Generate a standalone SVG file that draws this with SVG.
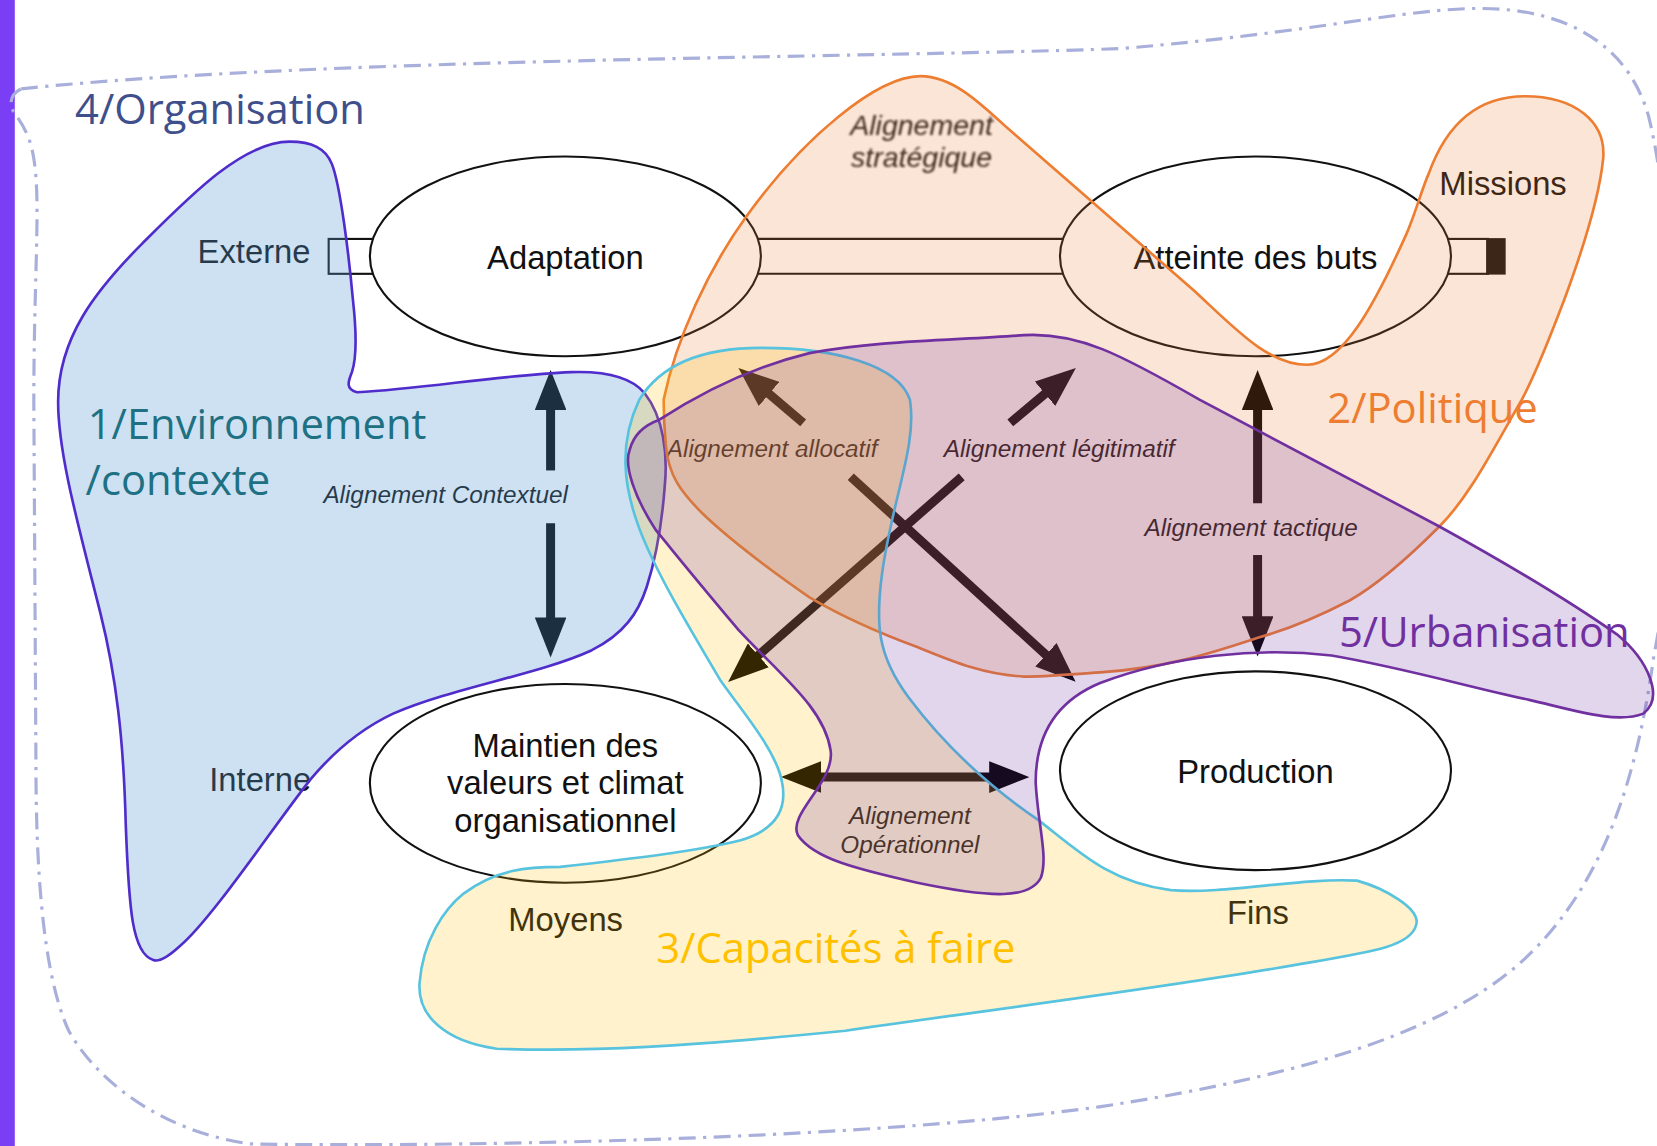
<svg xmlns="http://www.w3.org/2000/svg" width="1657" height="1146" viewBox="0 0 1657 1146">
<style>
.ell{fill:#ffffff;stroke:#111111;stroke-width:2}
.lbl{font-family:"Liberation Sans",Arial,sans-serif;font-size:31px;fill:#111111}
.ita{font-family:"Liberation Sans",Arial,sans-serif;font-style:italic;font-size:23px;fill:#111111}
.ttl{font-family:"Open Sans","Noto Sans",sans-serif;font-size:39.5px}
.arr{stroke:#000000;stroke-width:8.5;fill:none;marker-end:url(#head)}
.band{stroke:#111111;stroke-width:2;fill:none}
</style>
<defs>
<marker id="head" viewBox="0 0 38 30" refX="18" refY="15" markerWidth="38" markerHeight="30" markerUnits="userSpaceOnUse" orient="auto-start-reverse">
<path d="M0,0 L38,15 L0,30 Z" fill="#000000"/>
</marker>
<filter id="soft" x="-10%" y="-30%" width="120%" height="160%"><feGaussianBlur stdDeviation="1"/></filter>
</defs>
<rect x="0" y="0" width="1657" height="1146" fill="#ffffff"/>
<g transform="scale(1.0568,1.0572)">
<rect x="0" y="0" width="14" height="1084" fill="#7a3ff4"/>
<g id="organisation-boundary">
<path d="M 20,84 C 300,55 800,55 1060,46 C 1250,30 1330,8 1400,8 C 1480,8 1540,40 1560,110 C 1590,230 1590,500 1565,620 C 1550,730 1520,830 1450,900 C 1380,970 1250,1015 1040,1047 C 800,1080 400,1085 237,1082 C 150,1070 90,1020 65,975 C 40,920 34,820 34,720 L 32,380 C 32,250 40,180 30,140 C 25,120 15,110 12,104 C 8,96 12,88 20,84 Z" fill="none" stroke="#a9afdb" stroke-width="3" stroke-dasharray="16 7 3 7"/>
</g>
<g id="connectors">
<line class="band" x1="715" y1="226" x2="1008" y2="226"/>
<line class="band" x1="715" y1="259" x2="1008" y2="259"/>
<rect x="311" y="226" width="44" height="33" fill="#ffffff" stroke="#111111" stroke-width="2"/>
<rect x="1368" y="226" width="40" height="33" fill="#ffffff" stroke="#111111" stroke-width="2"/>
<rect x="1407" y="226" width="17" height="33" fill="#111111" stroke="#111111" stroke-width="1.5"/>
<line class="arr" x1="521" y1="445" x2="521" y2="370"/>
<line class="arr" x1="521" y1="495" x2="521" y2="602"/>
<line class="arr" x1="1190" y1="476" x2="1190" y2="370"/>
<line class="arr" x1="1190" y1="525" x2="1190" y2="601"/>
<line class="arr" x1="760" y1="400" x2="714" y2="361"/>
<line class="arr" x1="805" y1="451" x2="1003" y2="631.5"/>
<line class="arr" x1="956" y1="400" x2="1002.7" y2="360.9"/>
<line class="arr" x1="910" y1="451" x2="704" y2="631.8"/>
<line class="arr" x1="759" y1="735" x2="954" y2="735" style="marker-start:url(#head)"/>
<text class="ita" x="306" y="476">Alignement Contextuel</text>
<text class="ita" x="631" y="432">Alignement allocatif</text>
<text class="ita" x="893" y="432">Alignement légitimatif</text>
<text class="ita" x="1083" y="507">Alignement tactique</text>
<text class="ita" x="861" y="779" text-anchor="middle">Alignement</text>
<text class="ita" x="861" y="807" text-anchor="middle">Opérationnel</text>
<g filter="url(#soft)">
<text class="ita" x="872" y="128" text-anchor="middle" style="font-size:27px;fill:#141414">Alignement</text>
<text class="ita" x="872" y="158" text-anchor="middle" style="font-size:27px;fill:#141414">stratégique</text>
</g>
</g>
<g id="node-adaptation">
<ellipse class="ell" cx="535" cy="242.5" rx="185" ry="94.5"/>
<text class="lbl" x="535" y="254" text-anchor="middle">Adaptation</text>
</g>
<g id="node-atteinte">
<ellipse class="ell" cx="1188" cy="242.5" rx="185" ry="94.5"/>
<text class="lbl" x="1188" y="254" text-anchor="middle">Atteinte des buts</text>
</g>
<g id="node-maintien">
<ellipse class="ell" cx="535" cy="741" rx="185" ry="94"/>
<text class="lbl" x="535" y="716" text-anchor="middle">Maintien des</text>
<text class="lbl" x="535" y="751" text-anchor="middle">valeurs et climat</text>
<text class="lbl" x="535" y="787" text-anchor="middle">organisationnel</text>
</g>
<g id="node-production">
<ellipse class="ell" cx="1188" cy="729" rx="185" ry="94"/>
<text class="lbl" x="1188" y="741" text-anchor="middle">Production</text>
</g>
<g id="axis-labels">
<text class="lbl" x="187" y="249">Externe</text>
<text class="lbl" x="198" y="748">Interne</text>
<text class="lbl" x="1362" y="184">Missions</text>
<text class="lbl" x="481" y="881">Moyens</text>
<text class="lbl" x="1161" y="874">Fins</text>
</g>
<g id="zone-environnement">
<path d="M 274,134 C 295,134 308,140 314,155 C 322,175 330,240 334,284 C 338,320 337,340 333,352 C 330,360 326,368 338,371 C 400,368 470,355 540,352 C 570,351 597,356 610,372 C 628,395 632,430 629,460 C 626,500 620,530 612,555 C 604,580 590,600 560,615 C 510,638 430,650 372,675 C 340,690 315,712 294,737 C 260,780 200,870 170,895 C 158,906 150,910 145,908 C 125,902 122,860 119,780 C 117,700 110,640 95,580 C 75,500 55,430 55,380 C 55,320 90,275 135,230 C 180,185 230,134 274,134 Z" fill="#5b9bd5" fill-opacity="0.3" stroke="#4f2ccb" stroke-width="2.5"/>
</g>
<g id="zone-politique">
<path d="M 871,72 C 900,72 925,95 952,120 L 1130,275 C 1170,312 1200,345 1237,345 C 1270,345 1300,290 1331,221 C 1340,200 1345,180 1352,164 C 1365,128 1390,91 1443,91 C 1490,91 1520,115 1517,150 C 1514,180 1500,230 1480,284 C 1466,320 1455,350 1440,378 C 1410,430 1390,470 1362,498 C 1330,530 1300,555 1277,568 C 1250,582 1220,595 1191,603 C 1140,620 1100,632 1041,636 C 1010,638 990,640 969,640 C 930,638 900,625 868,612 C 830,598 800,585 766,565 C 730,540 690,510 665,486 C 645,466 632,450 630,420 C 628,400 628,390 628,378 C 640,320 670,255 706,205 C 760,130 830,72 871,72 Z" fill="#ed7d31" fill-opacity="0.2" stroke="#ed7d31" stroke-width="2.5"/>
</g>
<g id="zone-capacites">
<path d="M 605,378 C 625,345 665,329 720,329 C 790,329 850,345 861,378 C 868,420 845,470 835,540 C 828,590 830,620 860,660 C 890,700 930,740 983,776 C 1020,805 1050,835 1108,842 C 1160,846 1230,830 1284,833 C 1310,840 1345,860 1340,875 C 1335,895 1300,900 1230,912 C 1100,935 900,960 800,975 C 650,990 560,995 470,992 C 420,985 395,960 397,930 C 400,890 420,860 439,845 C 470,822 500,820 530,820 C 600,812 660,805 700,795 C 735,785 745,765 740,740 C 735,710 700,670 682,644 C 650,590 620,540 605,500 C 590,460 585,420 605,378 Z" fill="#ffc000" fill-opacity="0.2" stroke="#57c3de" stroke-width="2.5"/>
</g>
<g id="zone-urbanisation">
<path d="M 624,397 C 650,380 700,350 766,334 C 830,322 900,322 969,317 C 1020,314 1060,335 1135,378 L 1362,498 C 1420,530 1480,565 1530,600 C 1560,625 1575,660 1555,675 C 1530,685 1490,672 1447,662 C 1390,650 1330,632 1260,620 C 1190,612 1110,620 1041,646 C 995,665 980,700 980,740 C 982,780 992,810 985,830 C 975,850 940,850 868,835 C 810,822 770,812 755,790 C 745,770 790,740 786,710 C 780,670 740,640 699,596 C 660,550 640,525 621,502 C 600,470 590,440 596,425 C 600,410 610,402 624,397 Z" fill="#7030a0" fill-opacity="0.2" stroke="#7030a0" stroke-width="2.5"/>
</g>
<g id="zone-titles">
<text class="ttl" x="71" y="117" fill="#3e4f8b">4/Organisation</text>
<text class="ttl" x="83" y="415" fill="#1e7083">1/Environnement</text>
<text class="ttl" x="81" y="468" fill="#1e7083">/contexte</text>
<text class="ttl" x="1256" y="400" fill="#ed7d31">2/Politique</text>
<text class="ttl" x="1267" y="612" fill="#7030a0">5/Urbanisation</text>
<text class="ttl" x="621" y="911" fill="#ffc000">3/Capacités à faire</text>
</g>
</g>
</svg>
